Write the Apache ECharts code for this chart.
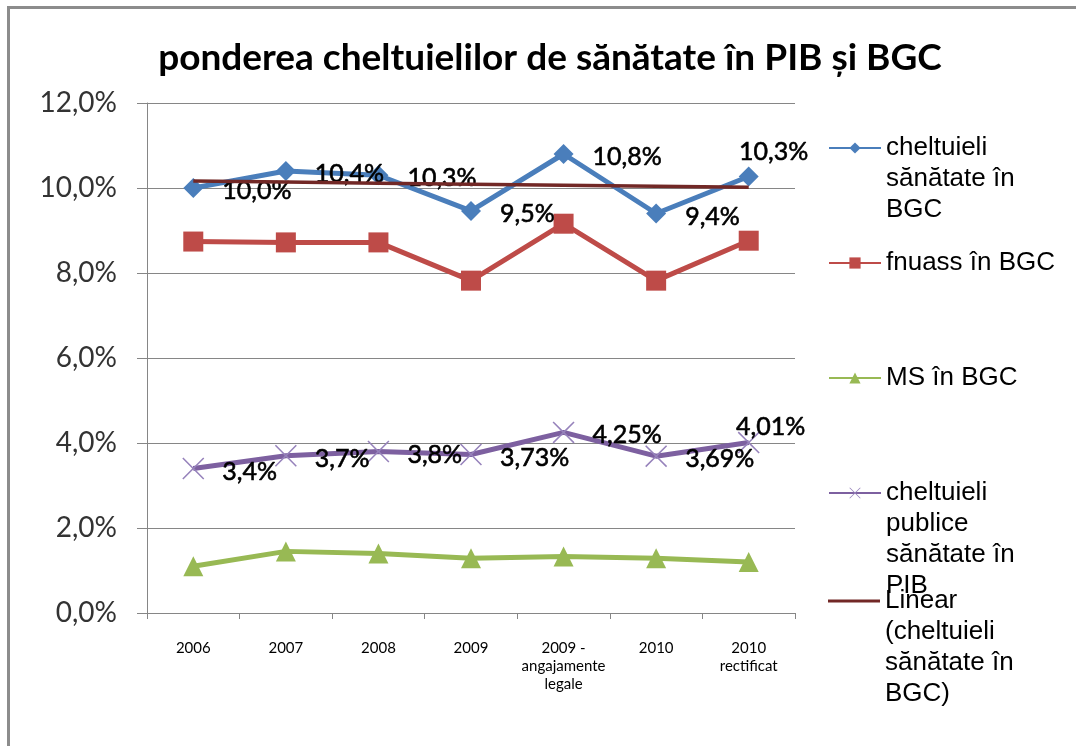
<!DOCTYPE html>
<html>
<head>
<meta charset="utf-8">
<title>ponderea cheltuielilor de sănătate în PIB și BGC</title>
<script src="https://cdn.jsdelivr.net/npm/echarts@6/dist/echarts.min.js"></script>
<style>
	html, body {
		margin: 0;
		padding: 0;
		overflow: hidden;
		background: #fff;
	}
	#chart {
		width: 1076px;
		height: 746px;
	}
	/* rama graficului (colt stanga-sus) */
	.frame {
		position: absolute;
		left: 7px;
		top: 6px;
		width: 2000px;
		height: 2000px;
		border-left: 3px solid #8c8c8c;
		border-top: 3px solid #8c8c8c;
		pointer-events: none;
	}
</style>
</head>
<body>
<div id="chart"></div>
<div class="frame"></div>
<script>
// categorii pe axa X
const categories = ["2006", "2007", "2008", "2009", "2009 -\nangajamente\nlegale", "2010", "2010\nrectificat"];
// valori (%)
const healthBGC = [10.0, 10.4, 10.3, 9.46, 10.8, 9.4, 10.27];
const fnuassBGC = [8.74, 8.72, 8.72, 7.82, 9.16, 7.82, 8.76];
const msBGC = [1.1, 1.45, 1.4, 1.29, 1.33, 1.29, 1.2];
const publicHealthPIB = [3.4, 3.7, 3.8, 3.73, 4.25, 3.69, 4.01];

const names = [
	"cheltuieli\nsănătate în\nBGC",
	"fnuass în BGC",
	"MS în BGC",
	"cheltuieli\npublice\nsănătate în\nPIB",
	"Linear\n(cheltuieli\nsănătate în\nBGC)",
];

// linia de trend (regresie liniara pe seria albastra)
function linearTrend(values) {
	const n = values.length;
	const mx = (n - 1) / 2;
	const my = values.reduce((a, b) => a + b, 0) / n;
	let num = 0, den = 0;
	values.forEach((v, i) => {
		num += (i - mx) * (v - my);
		den += (i - mx) * (i - mx);
	});
	const slope = num / den;
	return values.map((v, i) => my + slope * (i - mx));
}
const trend = linearTrend(healthBGC);

const comma = (s) => String(s).replace(".", ",");

const labelFont = {
	fontFamily: "Lato",
	fontSize: 25,
	color: "#000",
	textBorderColor: "#000",
	textBorderWidth: 0.6,
};

// etichete: in dreapta punctului, ultima deasupra
function withLabels(values, text, lastOffset) {
	return values.map((v, i) => {
		const last = i === values.length - 1;
		return {
			value: v,
			label: Object.assign({
				show: true,
				position: "inside",
				align: last ? "center" : "left",
				verticalAlign: "middle",
				offset: last ? lastOffset : [29, 3],
				formatter: comma(text(v)) + "%",
			}, labelFont),
		};
	});
}

const xMark = "path://M0,1L1,0L10,9L19,0L20,1L11,10L20,19L19,20L10,11L1,20L0,19L9,10Z";

const chart = echarts.init(document.getElementById("chart"));

// legenda: cate una pe element, iconita aliniata cu primul rand
const LH = 31;
const legendIconY = [148, 263, 378, 493, 601];
const legends = names.map((nm, i) => {
	const lines = nm.split("\n").length;
	const isTrend = i === 4;
	return {
		left: 828,
		top: legendIconY[i] - ((2 * lines - 1) * LH) / 2,
		padding: 0,
		itemWidth: 52,
		itemHeight: isTrend ? 3 : 14,
		data: isTrend ? [{ name: nm, icon: "rect" }] : [nm],
		formatter: (name) => "\n".repeat(lines - 1) + name,
		textStyle: {
			fontFamily: "Liberation Sans",
			fontSize: 26,
			lineHeight: LH,
			color: "#000",
		},
	};
});

const option = {
	backgroundColor: "#fff",
	animation: false,
	title: {
		text: "ponderea cheltuielilor de sănătate în PIB și BGC",
		left: 545,
		textAlign: "center",
		top: 35,
		textStyle: {
			fontFamily: "Lato",
			fontWeight: "bold",
			fontSize: 37,
			color: "#000",
		},
	},
	legend: legends,
	grid: {
		left: 147,
		right: 281,
		top: 103,
		bottom: 133,
	},
	xAxis: {
		type: "category",
		data: categories,
		axisLine: { lineStyle: { color: "#868686", width: 1 } },
		axisTick: { show: true, length: 6, lineStyle: { color: "#868686" } },
		axisLabel: {
			margin: 26,
			fontFamily: "Lato",
			fontSize: 15,
			lineHeight: 18,
			color: "#000",
			interval: 0,
		},
	},
	yAxis: {
		type: "value",
		min: 0,
		max: 12,
		interval: 2,
		axisLine: { show: true, lineStyle: { color: "#868686", width: 1 } },
		axisTick: { show: true, length: 10, lineStyle: { color: "#868686" } },
		splitLine: { lineStyle: { color: "#868686", width: 1 } },
		axisLabel: {
			margin: 30,
			fontFamily: "Lato",
			fontSize: 28,
			color: "#333",
			formatter: (v) => comma(v.toFixed(1)) + "%",
		},
	},
	series: [
		{
			name: names[0],
			type: "line",
			data: withLabels(healthBGC, (v) => v.toFixed(1), [25, -25]),
			symbol: "diamond",
			symbolSize: 20,
			color: "#4a7ebb",
			lineStyle: { width: 5, color: "#4a7ebb" },
			itemStyle: { color: "#4a7ebb" },
			z: 3,
		},
		{
			name: names[1],
			type: "line",
			data: fnuassBGC,
			symbol: "rect",
			symbolSize: 20,
			color: "#be4b48",
			lineStyle: { width: 5, color: "#be4b48" },
			itemStyle: { color: "#be4b48" },
			z: 2,
		},
		{
			name: names[2],
			type: "line",
			data: msBGC,
			symbol: "triangle",
			symbolSize: 20,
			color: "#98b954",
			lineStyle: { width: 5, color: "#98b954" },
			itemStyle: { color: "#98b954" },
			z: 2,
		},
		{
			name: names[3],
			type: "line",
			data: withLabels(publicHealthPIB, (v) => String(v), [22, -16]),
			symbol: xMark,
			symbolSize: 22,
			color: "#7d60a0",
			lineStyle: { width: 5, color: "#7d60a0" },
			itemStyle: { color: "#9682bb" },
			z: 2,
		},
		{
			name: names[4],
			type: "line",
			data: trend,
			symbol: "none",
			color: "#722826",
			lineStyle: { width: 3.5, color: "#722826" },
			z: 4,
		},
	],
};

chart.setOption(option);
</script>
</body>
</html>
